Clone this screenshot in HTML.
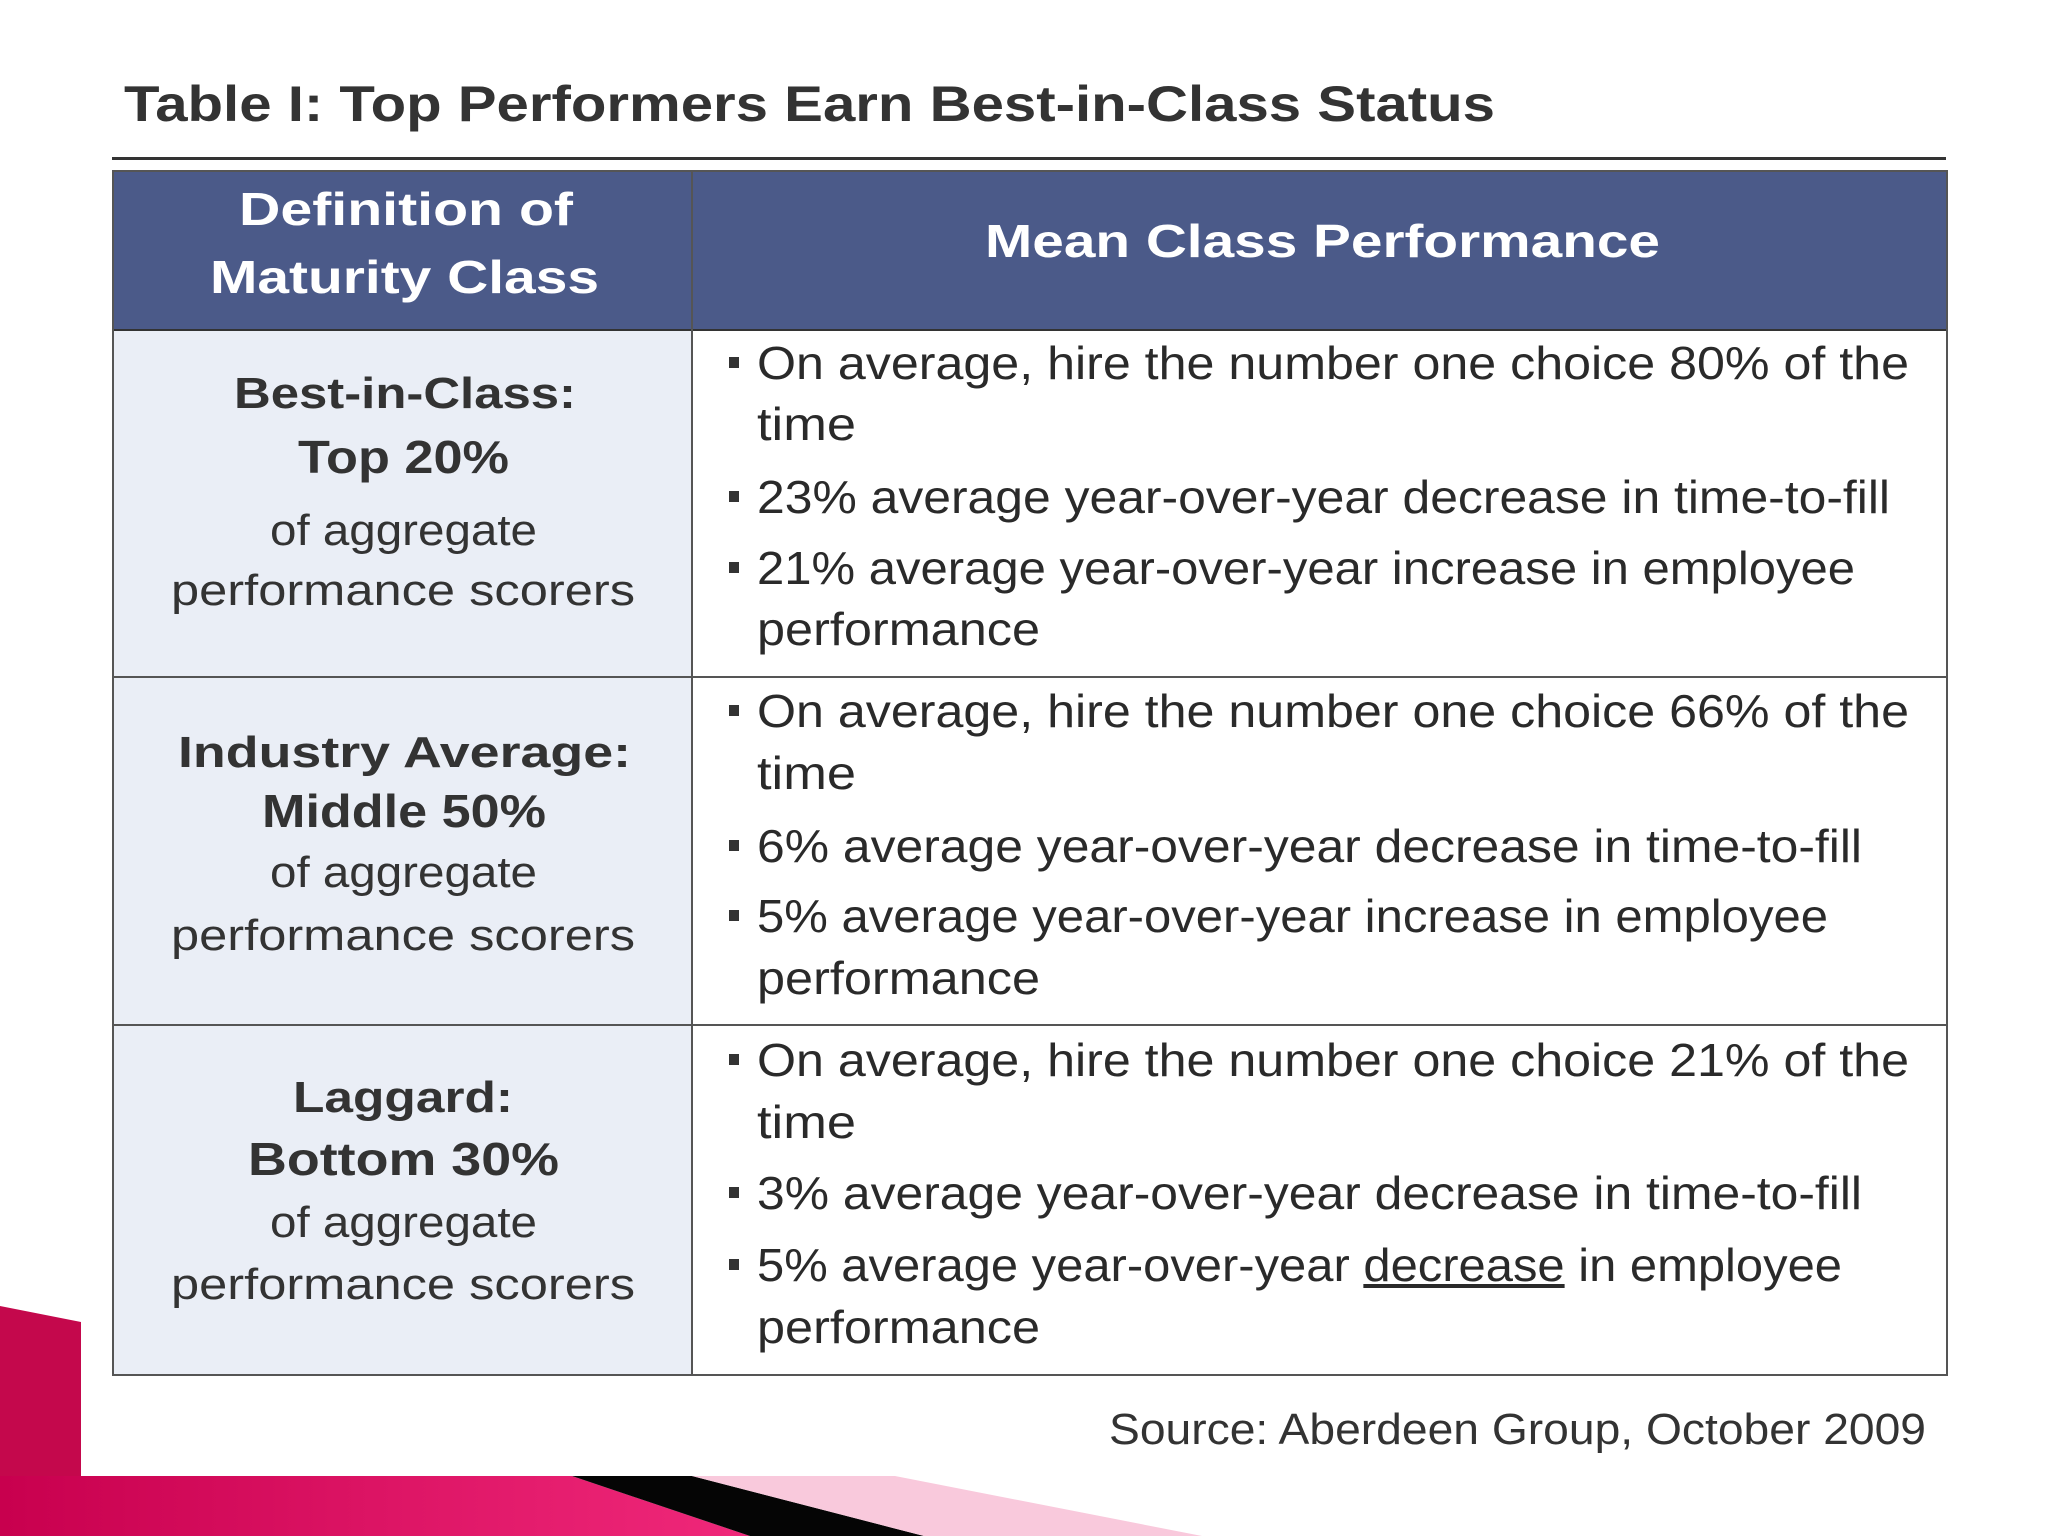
<!DOCTYPE html>
<html><head><meta charset="utf-8"><style>
html,body{margin:0;padding:0}
body{width:2048px;height:1536px;position:relative;overflow:hidden;background:#fff;font-family:"Liberation Sans",sans-serif;color:#2a2a2a}
.t{position:absolute;white-space:nowrap;line-height:1;transform-origin:0 0}
.b{font-weight:bold}
.box{position:absolute}
.bul{position:absolute;width:10px;height:11px;background:#333}
</style></head><body>
<svg class="box" style="left:0;top:0" width="2048" height="1536">
<defs><linearGradient id="mg" x1="0" x2="1"><stop offset="0" stop-color="#c8004e"/><stop offset="1" stop-color="#f0287a"/></linearGradient></defs>
<polygon points="0,1306 81,1322 81,1536 0,1536" fill="#c4084c"/>
<polygon points="0,1476 572,1476 750,1536 0,1536" fill="url(#mg)"/>
<polygon points="572,1476 692,1476 924,1536 750,1536" fill="#050505"/>
<polygon points="692,1476 895,1476 1202,1536 924,1536" fill="#f9c9dc"/>
</svg>
<div class="t b" data-w="1371" style="left:124px;top:79px;font-size:50px;color:#333">Table I: Top Performers Earn Best-in-Class Status</div>
<div class="box" style="left:112px;top:157px;width:1834px;height:3px;background:#333"></div>
<div class="box" style="left:112px;top:170px;width:1832px;height:1202px;border:2px solid #555">
 <div class="box" style="left:0;top:0;width:1832px;height:157px;background:#4b5a89;border-bottom:2px solid #333"></div>
 <div class="box" style="left:0;top:159px;width:577px;height:1043px;background:#eaeef6"></div>
 <div class="box" style="left:577px;top:0;width:2px;height:1202px;background:#555"></div>
 <div class="box" style="left:0;top:504px;width:1832px;height:2px;background:#555"></div>
 <div class="box" style="left:0;top:852px;width:1832px;height:2px;background:#555"></div>
</div>
<div id="txt"></div>
<div class="t" data-w="817" style="left:1109px;top:1408px;font-size:44px;color:#333">Source: Aberdeen Group, October 2009</div>
<script>
var lines=[
["header-definition","Definition of",239,225,573,1,46,"#fff"],
["header-maturity","Maturity Class",210,293,599,1,46,"#fff"],
["header-mean-performance","Mean Class Performance",985,257,1660,1,46,"#fff"],
["best-label","Best-in-Class:",234,409,576,1,44,"#333"],
["best-top","Top 20%",298,473,509,1,46,"#333"],
["best-agg","of aggregate",270,546,537,0,44,"#333"],
["best-scorers","performance scorers",171,606,635,0,44,"#333"],
["avg-label","Industry Average:",178,768,631,1,44,"#333"],
["avg-mid","Middle 50%",262,827,546,1,46,"#333"],
["avg-agg","of aggregate",270,888,537,0,44,"#333"],
["avg-scorers","performance scorers",171,951,635,0,44,"#333"],
["lag-label","Laggard:",293,1113,513,1,44,"#333"],
["lag-bottom","Bottom 30%",248,1175,559,1,46,"#333"],
["lag-agg","of aggregate",270,1238,537,0,44,"#333"],
["lag-scorers","performance scorers",171,1300,635,0,44,"#333"],
["b1-hire","On average, hire the number one choice 80% of the",757,379,1909,0,46,"#2a2a2a",1],
["b1-time","time",757,440,856,0,46,"#2a2a2a"],
["b1-fill","23% average year-over-year decrease in time-to-fill",757,513,1890,0,46,"#2a2a2a",1],
["b1-perf","21% average year-over-year increase in employee",757,584,1855,0,46,"#2a2a2a",1],
["b1-perf2","performance",757,645,1040,0,46,"#2a2a2a"],
["b2-hire","On average, hire the number one choice 66% of the",757,727,1909,0,46,"#2a2a2a",1],
["b2-time","time",757,789,856,0,46,"#2a2a2a"],
["b2-fill","6% average year-over-year decrease in time-to-fill",757,862,1862,0,46,"#2a2a2a",1],
["b2-perf","5% average year-over-year increase in employee",757,932,1828,0,46,"#2a2a2a",1],
["b2-perf2","performance",757,994,1040,0,46,"#2a2a2a"],
["b3-hire","On average, hire the number one choice 21% of the",757,1076,1909,0,46,"#2a2a2a",1],
["b3-time","time",757,1138,856,0,46,"#2a2a2a"],
["b3-fill","3% average year-over-year decrease in time-to-fill",757,1209,1862,0,46,"#2a2a2a",1],
["b3-perf","5% average year-over-year <u>decrease</u> in employee",757,1281,1842,0,46,"#2a2a2a",1],
["b3-perf2","performance",757,1343,1040,0,46,"#2a2a2a"]
];
var host=document.getElementById('txt');
lines.forEach(function(l){
 var d=document.createElement('div');
 d.className='t'+(l[5]?' b':'');
 
 
 d.innerHTML=l[1];
 d.style.left=l[2]+'px';d.style.top=(l[3]-0.847*l[6])+'px';
 d.style.fontSize=l[6]+'px';d.style.color=l[7];
 d.setAttribute('data-w',l[4]-l[2]);
 host.appendChild(d);
 if(l[8]){var s=document.createElement('div');s.className='bul';
  
  
  s.style.left='729px';s.style.top=(l[3]-22)+'px';host.appendChild(s);}
});
document.querySelectorAll('[data-w]').forEach(function(e){
 var w=e.getBoundingClientRect().width,tw=+e.getAttribute('data-w');
 if(w>0)e.style.transform='scaleX('+(tw/w)+')';
});
</script>
</body></html>
